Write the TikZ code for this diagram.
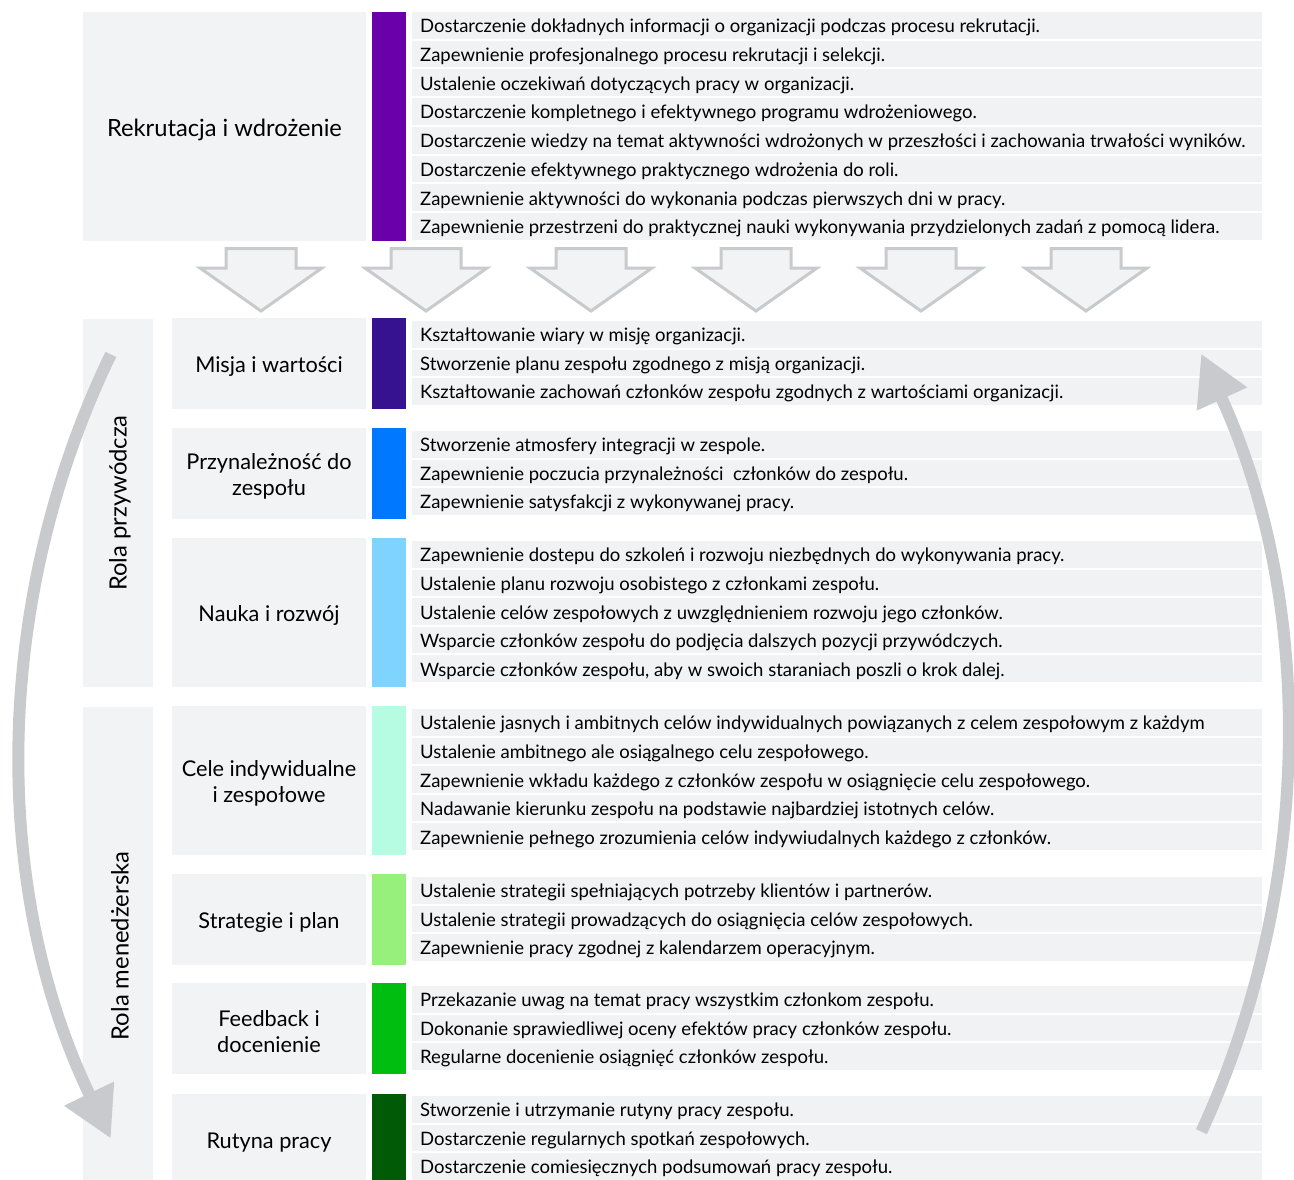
\documentclass[tikz,border=0pt]{standalone}
\usepackage{fontspec}
\setmainfont{Lato}
\usetikzlibrary{arrows.meta}

\definecolor{tlo}{HTML}{F2F3F5}
\definecolor{pasek}{HTML}{F1F2F4}
\definecolor{szary}{HTML}{C9CACD}
\definecolor{kolRekr}{HTML}{6A00AA}
\definecolor{kolMisja}{HTML}{361290}
\definecolor{kolPrzyn}{HTML}{0078FF}
\definecolor{kolNauka}{HTML}{7FD3FF}
\definecolor{kolCele}{HTML}{B6FCE2}
\definecolor{kolStrat}{HTML}{98F07C}
\definecolor{kolFeed}{HTML}{00BE10}
\definecolor{kolRut}{HTML}{005A06}

\tikzset{
  kategoria/.style={inner sep=0pt, align=center, font=\fontsize{21.7}{26.5}\selectfont},
  rola/.style={inner sep=0pt, rotate=90, font=\fontsize{23.8}{28}\selectfont},
  wiersz/.style={anchor=west, inner sep=0pt, text height=13pt, text depth=4pt, font=\fontsize{18.5}{22}\selectfont},
  strzalka/.style={fill=tlo, draw=szary, line width=3pt, line join=miter},
  lukstrzalka/.style={draw=szary, line width=12pt, -{Triangle[width=52pt, length=50pt]}},
}

% rows of one block: name, top, pitch, texts
\newcommand{\wiersze}[4]{%
  \foreach \opis [count=\i] in {#4} {
    \fill[pasek] (412,{#2+(\i-1)*#3}) rectangle (1262,{#2+\i*#3-2});
    \node[wiersz] (#1-\i) at (420,{#2+(\i-0.5)*#3+2}) {\opis};
  }}

\begin{document}
\begin{tikzpicture}[x=1pt, y=-1pt]

    \clip (0,0) rectangle (1294,1179);
    \fill[white] (0,0) rectangle (1294,1179);

    % Rekrutacja
    \fill[tlo] (83,12) rectangle (366,241);
    \node[kategoria, font=\fontsize{23.7}{28}\selectfont] (rekrutacja) at (224.5,129.5) {Rekrutacja i wdrożenie};
    \fill[kolRekr] (372,12) rectangle (406,241);
    \wiersze{rek}{12}{28.7}{
        Dostarczenie dokładnych informacji o organizacji podczas procesu rekrutacji.,
        Zapewnienie profesjonalnego procesu rekrutacji i selekcji.,
        Ustalenie oczekiwań dotyczących pracy w organizacji.,
        Dostarczenie kompletnego i efektywnego programu wdrożeniowego.,
        Dostarczenie wiedzy na temat aktywności wdrożonych w przeszłości i zachowania trwałości wyników.,
        Dostarczenie efektywnego praktycznego wdrożenia do roli.,
        Zapewnienie aktywności do wykonania podczas pierwszych dni w pracy.,
        Zapewnienie przestrzeni do praktycznej nauki wykonywania przydzielonych zadań z pomocą lidera.}

    % arrows down
    \foreach \x in {261,426,591,756,921,1086}
        \draw[strzalka] (\x-35,248.5) -- (\x+35,248.5) -- (\x+35,268) -- (\x+61,268) -- (\x,311) -- (\x-61,268) -- (\x-35,268) -- cycle;

    % roles
    \fill[tlo] (83,319) rectangle (153,687);
    \node[rola] (przywodcza) at (120,503) {Rola przywódcza};
    \fill[tlo] (83,707) rectangle (153,1185);
    \node[rola] (menedzerska) at (120,946) {Rola menedżerska};

    % Misja i wartości
    \fill[tlo] (172,318) rectangle (366,409);
    \node[kategoria] (misja) at (269,366.5) {Misja i wartości};
    \fill[kolMisja] (372,318) rectangle (406,409);
    \wiersze{mis}{321}{28.5}{
        Kształtowanie wiary w misję organizacji.,
        Stworzenie planu zespołu zgodnego z misją organizacji.,
        Kształtowanie zachowań członków zespołu zgodnych z wartościami organizacji.}

    % Przynależność
    \fill[tlo] (172,428) rectangle (366,519);
    \node[kategoria] (przynaleznosc) at (269,476.5) {Przynależność do\\zespołu};
    \fill[kolPrzyn] (372,428) rectangle (406,519);
    \wiersze{prz}{431}{28.5}{
        Stworzenie atmosfery integracji w zespole.,
        Zapewnienie poczucia przynależności \ członków do zespołu.,
        Zapewnienie satysfakcji z wykonywanej pracy.}

    % Nauka i rozwój
    \fill[tlo] (172,538) rectangle (366,687);
    \node[kategoria] (nauka) at (269,615.5) {Nauka i rozwój};
    \fill[kolNauka] (372,538) rectangle (406,687);
    \wiersze{nau}{541}{28.6}{
        Zapewnienie dostepu do szkoleń i rozwoju niezbędnych do wykonywania pracy.,
        Ustalenie planu rozwoju osobistego z członkami zespołu.,
        Ustalenie celów zespołowych z uwzględnieniem rozwoju jego członków.,
        Wsparcie członków zespołu do podjęcia dalszych pozycji przywódczych.,
        {Wsparcie członków zespołu, aby w swoich staraniach poszli o krok dalej.}}

    % Cele
    \fill[tlo] (172,706) rectangle (366,855);
    \node[kategoria] (cele) at (269,783.5) {Cele indywidualne\\i zespołowe};
    \fill[kolCele] (372,706) rectangle (406,855);
    \wiersze{cel}{709}{28.6}{
        Ustalenie jasnych i ambitnych celów indywidualnych powiązanych z celem zespołowym z każdym,
        Ustalenie ambitnego ale osiągalnego celu zespołowego.,
        Zapewnienie wkładu każdego z członków zespołu w osiągnięcie celu zespołowego.,
        Nadawanie kierunku zespołu na podstawie najbardziej istotnych celów.,
        Zapewnienie pełnego zrozumienia celów indywiudalnych każdego z członków.}

    % Strategie
    \fill[tlo] (172,874) rectangle (366,965);
    \node[kategoria] (strategie) at (269,922.5) {Strategie i plan};
    \fill[kolStrat] (372,874) rectangle (406,965);
    \wiersze{str}{877}{28.5}{
        Ustalenie strategii spełniających potrzeby klientów i partnerów.,
        Ustalenie strategii prowadzących do osiągnięcia celów zespołowych.,
        Zapewnienie pracy zgodnej z kalendarzem operacyjnym.}

    % Feedback
    \fill[tlo] (172,983) rectangle (366,1074);
    \node[kategoria] (feedback) at (269,1031.5) {Feedback i\\docenienie};
    \fill[kolFeed] (372,983) rectangle (406,1074);
    \wiersze{fee}{986}{28.5}{
        Przekazanie uwag na temat pracy wszystkim członkom zespołu.,
        Dokonanie sprawiedliwej oceny efektów pracy członków zespołu.,
        Regularne docenienie osiągnięć członków zespołu.}

    % Rutyna
    \fill[tlo] (172,1094) rectangle (366,1185);
    \node[kategoria] (rutyna) at (269,1142.5) {Rutyna pracy};
    \fill[kolRut] (372,1094) rectangle (406,1185);
    \wiersze{rut}{1096}{28.5}{
        Stworzenie i utrzymanie rutyny pracy zespołu.,
        Dostarczenie regularnych spotkań zespołowych.,
        Dostarczenie comiesięcznych podsumowań pracy zespołu.}

    % big curved arrows
    \coordinate (srodekL) at (922,746.5);
    \coordinate (srodekP) at (354.4,743);
    \draw[lukstrzalka] ([shift={(205.8:901)}]srodekL) arc[start angle=205.8, end angle=154.2, radius=901];
    \draw[lukstrzalka] ([shift={(24.65:932)}]srodekP) arc[start angle=24.65, end angle=-24.7, radius=932];
\end{tikzpicture}
\end{document}
